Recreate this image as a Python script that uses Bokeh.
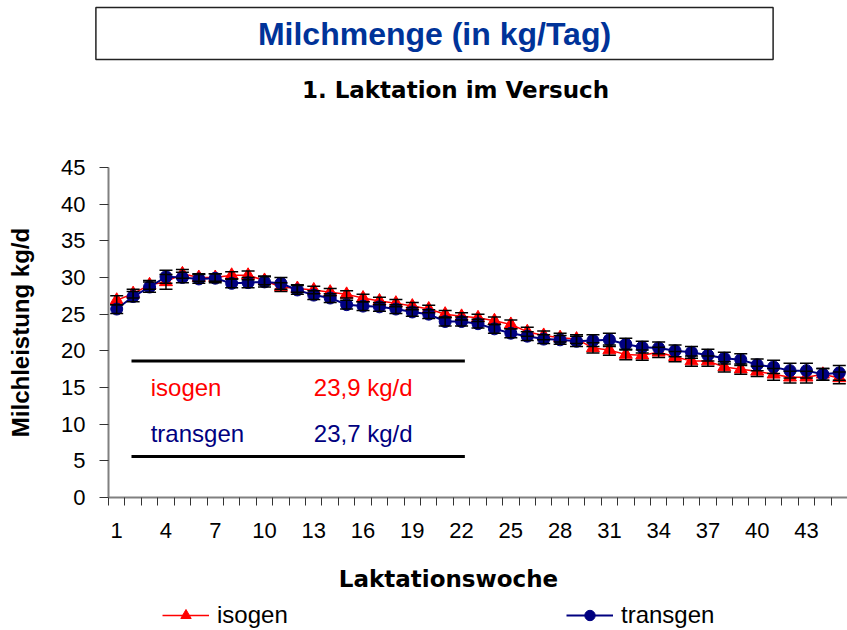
from math import pi
from bokeh.plotting import figure
from bokeh.layouts import column
from bokeh.models import (ColumnDataSource, Range1d, FixedTicker, Label, Legend,
                          LegendItem, Whisker, TeeHead)
from bokeh.embed import file_html
from bokeh.resources import INLINE

# ---------------- data ----------------
weeks = list(range(1, 46))
isogen = [26.9, 27.8, 29.0, 29.4, 30.5, 30.0, 30.0, 30.3, 30.3, 29.6,
          28.7, 28.5, 28.3, 28.0, 27.7, 27.2, 26.8, 26.5, 26.1, 25.7,
          25.0, 24.7, 24.5, 24.1, 23.6, 22.6, 22.1, 21.8, 21.6, 20.4,
          20.1, 19.5, 19.4, 19.8, 19.2, 18.6, 18.6, 17.8, 17.5, 17.2,
          16.8, 16.4, 16.4, 16.8, 16.3]
transgen = [25.7, 27.4, 28.7, 30.1, 30.0, 29.8, 29.9, 29.2, 29.3, 29.4,
            29.2, 28.3, 27.6, 27.2, 26.3, 26.1, 26.0, 25.7, 25.3, 25.0,
            24.0, 24.0, 23.7, 23.0, 22.4, 22.0, 21.6, 21.5, 21.3, 21.4,
            21.5, 20.9, 20.5, 20.4, 20.0, 19.8, 19.4, 19.0, 18.8, 18.1,
            17.8, 17.3, 17.3, 16.8, 17.0]
isogen_se = [0.6, 0.6, 0.6, 1.0, 0.6, 0.5, 0.5, 0.5, 0.6, 0.6,
             0.6, 0.5, 0.5, 0.5, 0.5, 0.5, 0.5, 0.5, 0.5, 0.5,
             0.5, 0.5, 0.5, 0.5, 0.6, 0.6, 0.6, 0.6, 0.6, 0.7,
             0.7, 0.7, 0.7, 0.7, 0.7, 0.7, 0.7, 0.7, 0.7, 0.7,
             0.8, 0.8, 0.8, 0.8, 0.8]
transgen_se = [0.6, 0.7, 0.7, 0.9, 0.7, 0.6, 0.6, 0.6, 0.7, 0.7,
               0.8, 0.6, 0.6, 0.6, 0.6, 0.6, 0.6, 0.6, 0.6, 0.6,
               0.6, 0.6, 0.6, 0.6, 0.6, 0.6, 0.6, 0.6, 0.7, 0.8,
               0.9, 0.8, 0.8, 0.8, 0.8, 0.8, 0.8, 0.8, 0.8, 0.8,
               0.9, 1.0, 1.0, 0.8, 1.0]
series_names = ["isogen", "transgen"]
y_ticks = list(range(0, 50, 5))
x_label_ticks = list(range(1, 46, 3))
x_bounds = [w - 0.5 for w in range(1, 47)]

title_text = "Milchmenge (in kg/Tag)"
subtitle_text = "1. Laktation im Versuch"
y_title = "Milchleistung kg/d"
x_title = "Laktationswoche"
inset_names = ["isogen", "transgen"]
inset_values = ["23,9 kg/d", "23,7 kg/d"]
inset_rows = [15.0, 8.7]
inset_rule_y = [18.6, 5.6]
inset_rule_x = [1.9, 22.2]

RED = "#FF0000"
NAVY = "#000080"
FONT = "Liberation Sans"
W = 847


def blank(height):
    f = figure(width=W, height=height, output_backend="svg", toolbar_location=None,
               x_axis_location=None, y_axis_location=None, min_border=0,
               x_range=Range1d(0, W), y_range=Range1d(0, height), frame_align=False)
    f.outline_line_color = None
    f.grid.visible = False
    return f


src_i = ColumnDataSource(dict(x=weeks, y=isogen,
                              lo=[v - e for v, e in zip(isogen, isogen_se)],
                              hi=[v + e for v, e in zip(isogen, isogen_se)]))
src_t = ColumnDataSource(dict(x=weeks, y=transgen,
                              lo=[v - e for v, e in zip(transgen, transgen_se)],
                              hi=[v + e for v, e in zip(transgen, transgen_se)]))

# ---------------- top: titles ----------------
top = blank(154)
top.add_layout(Label(x=434, y=121, x_units="screen", y_units="screen",
                     text=title_text, text_align="center", text_baseline="middle",
                     text_font=FONT, text_font_style="bold", text_font_size="32px",
                     text_color="#003399", border_line_color="#222222",
                     border_line_width=1.5, background_fill_color="white",
                     padding=dict(x=162, y=8)))
top.add_layout(Label(x=455, y=65, x_units="screen", y_units="screen",
                     text=subtitle_text, text_align="center", text_baseline="middle",
                     text_font="DejaVu Sans", text_font_style="bold",
                     text_font_size="23px", text_color="black"))

# ---------------- main chart ----------------
p = figure(width=W, height=393, output_backend="svg", toolbar_location=None,
           x_range=Range1d(0.5, 45.5), y_range=Range1d(0, 45),
           min_border_left=108, min_border_right=0,
           min_border_top=13, min_border_bottom=50, frame_align=False)
p.outline_line_color = None
p.grid.visible = False

ya = p.yaxis[0]
ya.ticker = FixedTicker(ticks=y_ticks)
ya.axis_line_color = "#808080"
ya.axis_line_width = 2
ya.major_tick_out = 9
ya.major_tick_in = 0
ya.major_tick_line_color = "#333333"
ya.minor_tick_line_color = None
ya.major_label_text_font = FONT
ya.major_label_text_font_size = "22px"
ya.major_label_text_color = "black"
ya.major_label_standoff = 14
ya.axis_label = y_title
ya.axis_label_text_font = FONT
ya.axis_label_text_font_style = "bold"
ya.axis_label_text_font_size = "24px"
ya.axis_label_text_color = "black"
ya.axis_label_standoff = 24

xa = p.xaxis[0]
xa.ticker = FixedTicker(ticks=x_label_ticks, minor_ticks=x_bounds)
xa.axis_line_color = "#808080"
xa.axis_line_width = 2
xa.major_tick_out = 0
xa.major_tick_in = 0
xa.minor_tick_out = 8
xa.minor_tick_in = 0
xa.minor_tick_line_color = "#333333"
xa.major_label_text_font = FONT
xa.major_label_text_font_size = "22px"
xa.major_label_text_color = "black"
xa.major_label_standoff = 17

p.line("x", "y", source=src_i, line_color=RED, line_width=1.5)
p.scatter("x", "y", source=src_i, marker="triangle", size=13,
          fill_color=RED, line_color=RED)
p.add_layout(Whisker(base="x", lower="lo", upper="hi", source=src_i, dimension="height",
                     line_color="black", line_width=1.5, level="glyph",
                     upper_head=TeeHead(size=13, line_color="black", line_width=1.5),
                     lower_head=TeeHead(size=13, line_color="black", line_width=1.5)))
p.line("x", "y", source=src_t, line_color=NAVY, line_width=2)
p.scatter("x", "y", source=src_t, marker="circle", size=12,
          fill_color=NAVY, line_color=NAVY)
p.add_layout(Whisker(base="x", lower="lo", upper="hi", source=src_t, dimension="height",
                     line_color="black", line_width=1.5, level="glyph",
                     upper_head=TeeHead(size=13, line_color="black", line_width=1.5),
                     lower_head=TeeHead(size=13, line_color="black", line_width=1.5)))

for yy in inset_rule_y:
    p.segment(x0=[inset_rule_x[0]], y0=[yy], x1=[inset_rule_x[1]], y1=[yy],
              line_color="black", line_width=3)
for name, val, yy, col in zip(inset_names, inset_values, inset_rows, [RED, NAVY]):
    p.add_layout(Label(x=3.07, y=yy, text=name, text_align="left",
                       text_baseline="middle", text_font=FONT,
                       text_font_size="24px", text_color=col))
    p.add_layout(Label(x=13.0, y=yy, text=val, text_align="left",
                       text_baseline="middle", text_font=FONT,
                       text_font_size="24px", text_color=col))

# ---------------- bottom: x title + legend ----------------
bot = blank(83)
bot.add_layout(Label(x=448, y=52, x_units="screen", y_units="screen",
                     text=x_title, text_align="center", text_baseline="middle",
                     text_font="DejaVu Sans", text_font_style="bold",
                     text_font_size="23px", text_color="black"))
# hidden renderers (same data) that only supply the legend glyphs
leg_i_line = bot.line("x", "y", source=src_i, line_color=RED, line_width=1.5, visible=False)
leg_i_mark = bot.scatter("x", "y", source=src_i, marker="triangle",
                         fill_color=RED, line_color=RED, visible=False)
leg_t_line = bot.line("x", "y", source=src_t, line_color=NAVY, line_width=2, visible=False)
leg_t_mark = bot.scatter("x", "y", source=src_t, marker="circle",
                         fill_color=NAVY, line_color=NAVY, visible=False)
for name, rends, loc in [(series_names[0], [leg_i_line, leg_i_mark], (162, 1)),
                         (series_names[1], [leg_t_line, leg_t_mark], (566, 1))]:
    bot.add_layout(Legend(items=[LegendItem(label=name, renderers=rends)],
                          location=loc, orientation="horizontal",
                          glyph_width=47, glyph_height=26, label_standoff=8,
                          padding=0, margin=0, border_line_color=None,
                          background_fill_alpha=0, label_text_font=FONT,
                          label_text_font_size="24px", label_text_color="black",
                          label_text_baseline="middle"))

layout = column(top, p, bot, spacing=0)
open("out.html", "w").write(file_html(layout, INLINE))
